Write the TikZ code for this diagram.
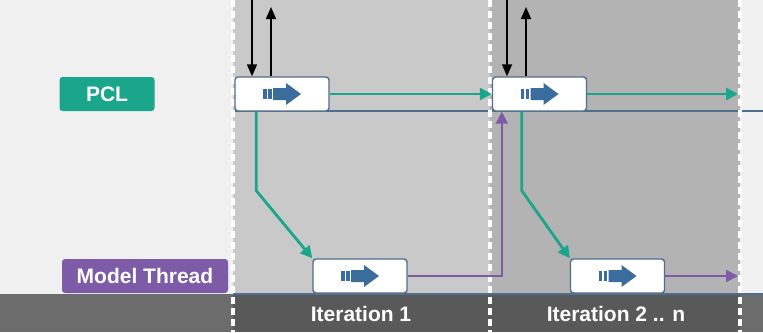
\documentclass[tikz,border=0pt]{standalone}
\usepackage{fontspec}
\setmainfont{Liberation Sans}
\usetikzlibrary{arrows.meta}
\definecolor{pclgreen}{HTML}{1AA68A}
\definecolor{mthpurple}{HTML}{7E5BA6}
\definecolor{boxblue}{HTML}{4F6E8E}
\definecolor{iconblue}{HTML}{3B6D9C}
\definecolor{bglight}{HTML}{F0F0F0}
\definecolor{bgmid}{HTML}{C9C9C9}
\definecolor{bgdark}{HTML}{B3B3B3}
\definecolor{barlight}{HTML}{6C6C6C}
\definecolor{bardark}{HTML}{595959}
\tikzset{fwd/.pic={
  \fill[iconblue] (-19,-5) rectangle (-15.5,5);
  \fill[iconblue] (-14,-5) rectangle (-10.5,5);
  \fill[iconblue] (-9,-6) -- (4,-6) -- (4,-11) -- (19,0) -- (4,11) -- (4,6) -- (-9,6) -- cycle;
}}
\begin{document}
\begin{tikzpicture}[x=0.5pt,y=-0.5pt,
  stage/.style={draw=boxblue,fill=white,rounded corners=1.5pt,minimum width=47pt,minimum height=17pt,inner sep=0pt,line width=0.7pt},
  tag/.style={rounded corners=1.5pt,text=white,font=\bfseries\fontsize{10.5}{12}\selectfont,minimum height=17pt,inner sep=0pt},
  flow/.style={line width=1.4pt,-{Triangle[length=6pt,width=6pt]}},
  io/.style={line width=0.8pt,-{Triangle[length=6pt,width=5pt]}},
  sep/.style={white,line width=1.6pt,dash pattern=on 3.5pt off 2pt}]
\useasboundingbox (0,0) rectangle (763,332);
% backgrounds
\fill[bglight] (0,0) rectangle (763,332);
\fill[bgmid] (233,0) rectangle (490,294);
\fill[bgdark] (490,0) rectangle (740,294);
\fill[barlight] (0,294) rectangle (763,332);
\fill[bardark] (233,294) rectangle (740,332);
\draw[boxblue,line width=0.7pt] (233,111) -- (763,111);
\draw[boxblue,line width=0.7pt] (233,294) -- (763,294);
\draw[sep] (233,0) -- (233,332);
\draw[sep] (490,0) -- (490,332);
\draw[sep] (740,0) -- (740,332);

% labels
\node[tag,fill=pclgreen,minimum width=47.5pt] (pcl) at (107,94) {PCL};
\node[tag,fill=mthpurple,minimum width=83pt] (mth) at (145,276) {Model Thread};
\node[tag,rounded corners=0pt] (it1) at (361,314) {Iteration 1};
\node[tag,rounded corners=0pt] (it2) at (616,314) {Iteration 2 .. n};

% stages
\node[stage] (p1) at (282,94) {};
\node[stage] (p2) at (539.5,94) {};
\node[stage] (m1) at (360,276) {};
\node[stage] (m2) at (617.5,276) {};
\pic at (p1) {fwd};
\pic at (p2) {fwd};
\pic at (m1) {fwd};
\pic at (m2) {fwd};

% in and out
\coordinate (in1) at (252,0);
\coordinate (out1) at (271,7);
\coordinate (in2) at (507,0);
\coordinate (out2) at (526,7);
\draw[io] (in1) -- (in1 |- p1.north);
\draw[io] (out1 |- p1.north) -- (out1);
\draw[io] (in2) -- (in2 |- p2.north);
\draw[io] (out2 |- p2.north) -- (out2);

% flows
\coordinate (pend) at (738,94);
\coordinate (mend) at (738,276);
\draw[flow,pclgreen] (p1.east) -- (p2.west);
\draw[flow,pclgreen] (p2.east) -- (pend);
\draw[flow,pclgreen] ([xshift=11pt]p1.south west) -- ++(0,79) -- (m1.north west);
\draw[flow,pclgreen] ([xshift=15pt]p2.south west) -- ++(0,79) -- (m2.north west);
\draw[flow,mthpurple,line width=1.1pt] (m1.east) -| ([xshift=5pt]p2.south west);
\draw[flow,mthpurple,line width=1.1pt] (m2.east) -- (mend);
\end{tikzpicture}
\end{document}
